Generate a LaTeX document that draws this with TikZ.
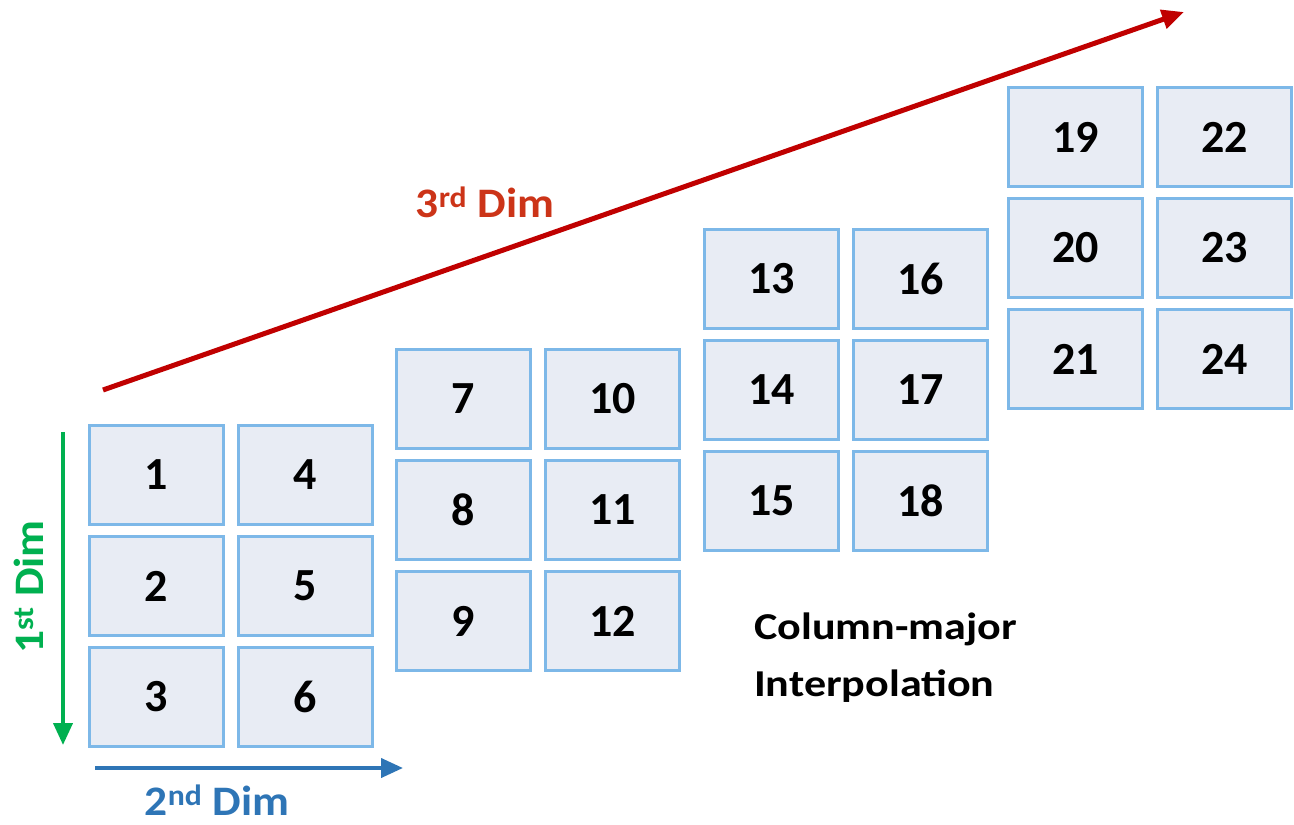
\documentclass[tikz,border=0pt]{standalone}
\usepackage{fontspec}
\setmainfont{Carlito}
\newfontfamily\widefont[FakeStretch=1.16]{Carlito}
\newfontfamily\labelfont[FakeStretch=1.08]{Carlito}
\usetikzlibrary{arrows.meta}
\definecolor{cellfill}{RGB}{232,236,244}
\definecolor{celldraw}{RGB}{125,184,232}
\definecolor{dimred}{RGB}{192,0,0}
\definecolor{dimredtext}{RGB}{204,52,24}
\definecolor{dimgreen}{RGB}{0,176,80}
\definecolor{dimblue}{RGB}{46,117,182}
\begin{document}
\begin{tikzpicture}[x=1pt,y=-1pt,
  cell/.style={draw=celldraw,fill=cellfill,line width=3pt,minimum width=134pt,minimum height=99pt,
    inner sep=0pt,font=\fontsize{46}{50}\selectfont\bfseries},
  dimlabel/.style={font=\labelfont\fontsize{42}{46}\selectfont\bfseries,inner sep=0pt,anchor=base},
  axis/.style={line width=4.5pt,-{Triangle[length=22pt,width=19pt]}}]
\useasboundingbox (0,0) rectangle (1294,825);
\fill[white] (0,0) rectangle (1294,825);
% blocks: origins
\foreach \b/\X/\Y in {0/88/424,1/395/348,2/703/228,3/1007/86}{
  \foreach \c in {0,1}{
    \foreach \r in {0,1,2}{
      \pgfmathtruncatemacro{\n}{6*\b+3*\c+\r+1}
      \node[cell] (c\n) at ({\X+68.5+149*\c},{\Y+51+111*\r}) {\n};
    }
  }
}
% axes
\coordinate (g0) at (63,432);
\coordinate (g1) at (63,745);
\coordinate (b0) at (95,768);
\coordinate (b1) at (403,768);
\coordinate (r0) at (103,390);
\coordinate (r1) at (1184,12);
\draw[axis,dimgreen,line width=4pt] (g0) -- (g1);
\draw[axis,dimblue,line width=4pt] (b0) -- (b1);
\draw[axis,dimred,line width=5pt] (r0) -- (r1);
\node[dimlabel,text=dimgreen,rotate=90] (l1) at (43,587) {1\textsuperscript{st} Dim};
\node[dimlabel,text=dimblue] (l2) at (217,815) {2\textsuperscript{nd} Dim};
\node[dimlabel,text=dimredtext] (l3) at (485,217) {3\textsuperscript{rd} Dim};
\node[anchor=base west,align=left,inner sep=0pt,font=\widefont\fontsize{38}{57}\selectfont\bfseries] (cm) at (754,696) {Column-major\\Interpolation};
\end{tikzpicture}
\end{document}
